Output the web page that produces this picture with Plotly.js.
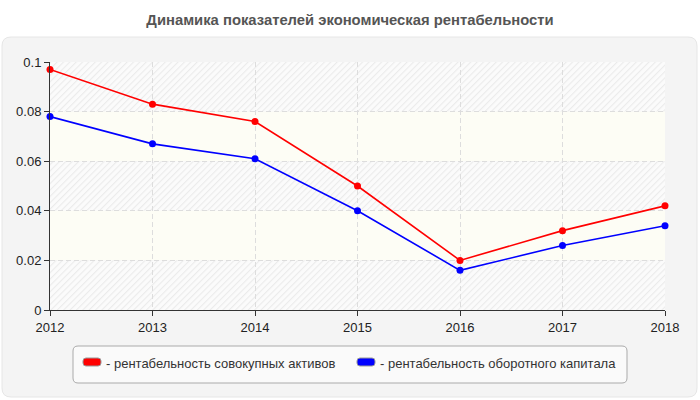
<!DOCTYPE html>
<html><head><meta charset="utf-8">
<script src="https://cdn.plot.ly/plotly-3.0.1.min.js"></script>
<style>html,body{margin:0;padding:0;background:#fff}#c{width:700px;height:400px}</style>
</head><body><div id="c"></div>
<script>
const years = ['2012','2013','2014','2015','2016','2017','2018'];
const assets = [0.097, 0.083, 0.076, 0.050, 0.020, 0.032, 0.042];
const working = [0.078, 0.067, 0.061, 0.040, 0.016, 0.026, 0.034];
const seriesNames = ['- рентабельность совокупных активов', '- рентабельность оборотного капитала'];
const colors = ['#ff0000', '#0000ff'];
const title = 'Динамика показателей экономическая рентабельности';

const W = 700, H = 400, L = 50, R = 35, T = 62, B = 90;
const pw = W - L - R, ph = H - T - B;
const px = x => (x - L) / pw;
const py = y => (H - B - y) / ph;
function roundRect(x0, y0, x1, y1, r) {
  const P = (x, y) => px(x) + ',' + py(y);
  return 'M' + P(x0 + r, y0) + ' L' + P(x1 - r, y0) + ' Q' + P(x1, y0) + ' ' + P(x1, y0 + r) +
    ' L' + P(x1, y1 - r) + ' Q' + P(x1, y1) + ' ' + P(x1 - r, y1) +
    ' L' + P(x0 + r, y1) + ' Q' + P(x0, y1) + ' ' + P(x0, y1 - r) +
    ' L' + P(x0, y0 + r) + ' Q' + P(x0, y0) + ' ' + P(x0 + r, y0) + ' Z';
}

const data = [assets, working].map((v, i) => ({
  x: years, y: v, type: 'scatter', mode: 'lines+markers', name: seriesNames[i],
  line: {color: colors[i], width: 1.6}, marker: {color: colors[i], size: 7},
  showlegend: false, cliponaxis: false
}));

// alternating band background: hatched / cream (decoration of the plot area)
let bands = '';
for (let k = 0; k < 5; k++) {
  const y0 = (k * ph / 5).toFixed(2), h = (ph / 5).toFixed(2);
  bands += '<rect x="0" y="' + y0 + '" width="' + pw + '" height="' + h + '" fill="' +
    (k % 2 === 0 ? 'url(#p)' : '#fdfdf5') + '"/>';
}
const hatch = 'data:image/svg+xml;utf8,' + encodeURIComponent(
  '<svg xmlns="http://www.w3.org/2000/svg" width="' + pw + '" height="' + ph + '">' +
  '<defs><pattern id="p" width="4.5" height="4.5" patternUnits="userSpaceOnUse" patternTransform="rotate(45)">' +
  '<rect width="4.5" height="4.5" fill="#fbfbfb"/>' +
  '<line x1="0.5" y1="0" x2="0.5" y2="4.5" stroke="#ebebeb" stroke-width="1.2"/></pattern></defs>' +
  bands + '</svg>');

// legend drawn as shapes + annotations
const legendShapes = [
  {type: 'path', xref: 'paper', yref: 'paper', layer: 'above',
    path: roundRect(73, 346, 627, 383, 5), fillcolor: '#fafafa', line: {color: '#aaaaaa', width: 1}}
];
const legendSym = [83, 357];
const legendTxt = [104, 378];
const annotations = [];
seriesNames.forEach((n, i) => {
  legendShapes.push({type: 'path', xref: 'paper', yref: 'paper', layer: 'above',
    path: roundRect(legendSym[i], 358, legendSym[i] + 18, 366, 3), fillcolor: colors[i],
    line: {color: '#999999', width: 1}});
  annotations.push({text: n, xref: 'paper', yref: 'paper', x: px(legendTxt[i]), y: py(363.5),
    xanchor: 'left', yanchor: 'middle', showarrow: false,
    font: {size: 13, color: '#333', family: 'Liberation Sans, Arial, sans-serif'}});
});

const layout = {
  width: W, height: H,
  margin: {l: L, r: R, t: T, b: B, autoexpand: false},
  paper_bgcolor: '#ffffff', plot_bgcolor: '#fcfcf6',
  font: {family: 'Liberation Sans, Arial, sans-serif', size: 13, color: '#333'},
  title: {text: '<b>' + title + '</b>', x: 0.5, xanchor: 'center', y: 1 - 20 / H, yanchor: 'middle',
    font: {size: 14.8, color: '#555', family: 'Liberation Sans, Arial, sans-serif'}},
  xaxis: {type: 'category', range: [0, 6], showgrid: true, gridcolor: '#dddddd', griddash: '5px,3px',
    showline: true, linecolor: '#333', linewidth: 1, ticks: 'outside', ticklen: 5, tickcolor: '#333',
    zeroline: false, tickfont: {size: 13, color: '#222'}, fixedrange: true},
  yaxis: {range: [0, 0.1], dtick: 0.02, showgrid: true, gridcolor: '#dddddd', griddash: '5px,3px',
    showline: true, linecolor: '#333', linewidth: 1, ticks: 'outside', ticklen: 5, tickcolor: '#333',
    zeroline: false, tickfont: {size: 13, color: '#222'}, fixedrange: true},
  images: [{source: hatch, xref: 'x domain', yref: 'y domain', x: 0, y: 1, sizex: 1, sizey: 1,
    xanchor: 'left', yanchor: 'top', sizing: 'stretch', layer: 'below'}],
  shapes: [
    {type: 'path', xref: 'paper', yref: 'paper', layer: 'below',
      path: roundRect(2, 37, 697, 397, 9), fillcolor: '#f4f4f4', line: {color: '#e6e6e6', width: 1}}
  ].concat(legendShapes),
  annotations: annotations,
  showlegend: false
};
Plotly.newPlot('c', data, layout, {displayModeBar: false, staticPlot: true});
</script></body></html>
